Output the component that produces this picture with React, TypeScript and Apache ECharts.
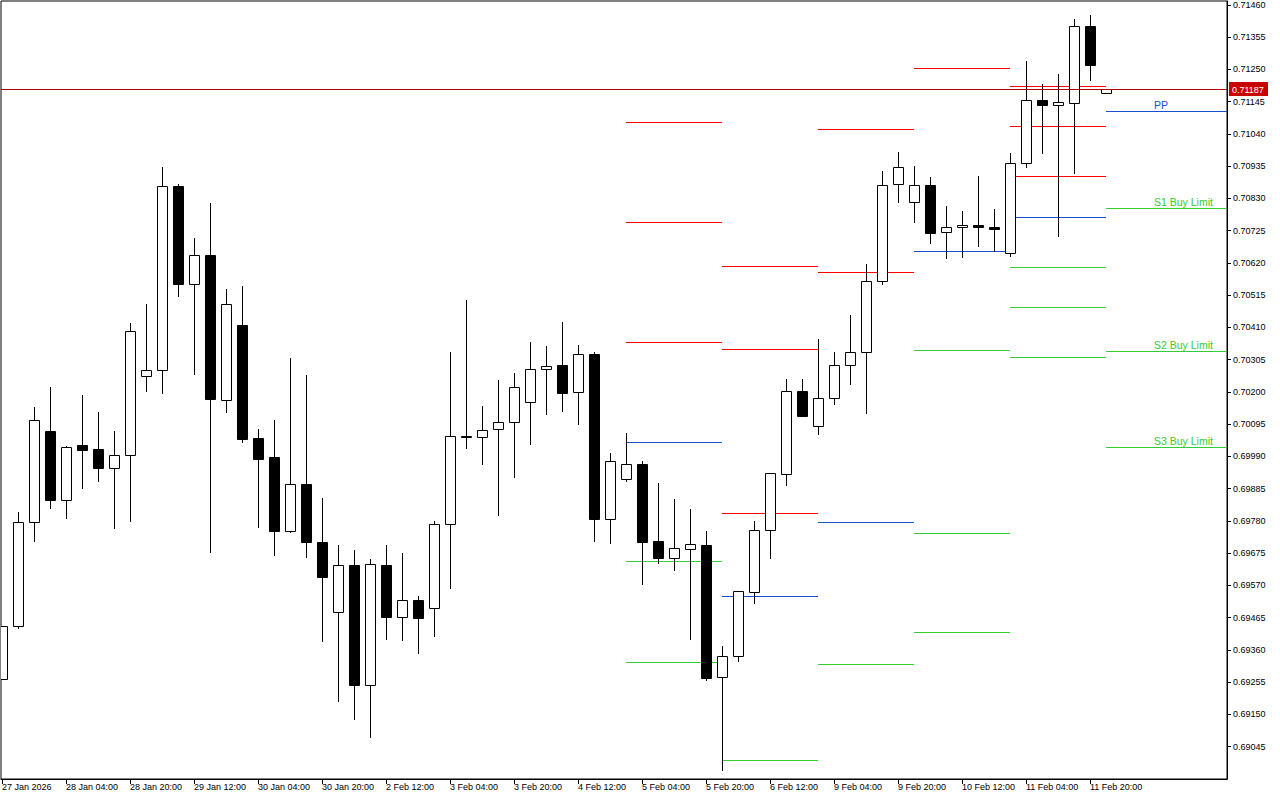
import React, { useEffect, useRef } from "react";
import * as echarts from "echarts";

// ---- candle data (H4 bars, index 0 = 27 Jan 12:00) ----
const opens = [0.69266,0.69438,0.69777,0.70073,0.69848,0.70028,0.70014,0.69953,0.69995,0.70252,0.70272,0.70871,0.70552,0.70646,0.70174,0.70418,0.70050,0.69988,0.69748,0.69901,0.69712,0.69484,0.69637,0.69246,0.69637,0.69468,0.69523,0.69497,0.69770,0.70057,0.70054,0.70080,0.70102,0.70168,0.70275,0.70288,0.70200,0.70324,0.69787,0.69917,0.69966,0.69715,0.69660,0.69689,0.69702,0.69272,0.69341,0.69549,0.69751,0.69933,0.70203,0.70089,0.70181,0.70288,0.70330,0.70561,0.70877,0.70819,0.70874,0.70721,0.70737,0.70744,0.70737,0.70653,0.70946,0.71151,0.71134,0.71141,0.71392,0.71174];
const highs = [0.69438,0.69809,0.70151,0.70216,0.70024,0.70190,0.70135,0.70073,0.70425,0.70487,0.70933,0.70877,0.70701,0.70815,0.70535,0.70545,0.70080,0.70109,0.70311,0.70255,0.69855,0.69702,0.69686,0.69656,0.69702,0.69676,0.69536,0.69780,0.70330,0.70500,0.70154,0.70239,0.70262,0.70363,0.70350,0.70428,0.70353,0.70330,0.70001,0.70067,0.69975,0.69904,0.69852,0.69819,0.69748,0.69373,0.69552,0.69780,0.69936,0.70242,0.70242,0.70373,0.70330,0.70451,0.70617,0.70920,0.70981,0.70936,0.70900,0.70806,0.70789,0.70903,0.70796,0.70978,0.71278,0.71203,0.71235,0.71414,0.71428,0.71187];
const lows = [0.69266,0.69432,0.69715,0.69822,0.69790,0.69888,0.69910,0.69757,0.69780,0.70203,0.70197,0.70513,0.70259,0.69679,0.70135,0.70037,0.69761,0.69669,0.69745,0.69663,0.69389,0.69194,0.69135,0.69077,0.69396,0.69393,0.69350,0.69406,0.69562,0.70018,0.69966,0.69800,0.69923,0.70031,0.70128,0.70138,0.70096,0.69715,0.69708,0.69910,0.69575,0.69643,0.69621,0.69396,0.69262,0.68969,0.69324,0.69513,0.69660,0.69897,0.70122,0.70063,0.70161,0.70226,0.70132,0.70552,0.70819,0.70754,0.70685,0.70636,0.70640,0.70675,0.70659,0.70643,0.70933,0.70978,0.70708,0.70913,0.71216,0.71174];
const closes = [0.69438,0.69777,0.70109,0.69848,0.70021,0.70011,0.69953,0.69995,0.70399,0.70272,0.70871,0.70552,0.70646,0.70177,0.70487,0.70047,0.69982,0.69748,0.69901,0.69712,0.69598,0.69637,0.69246,0.69640,0.69468,0.69523,0.69464,0.69770,0.70057,0.70052,0.70076,0.70102,0.70216,0.70275,0.70285,0.70197,0.70324,0.69787,0.69975,0.69966,0.69712,0.69660,0.69692,0.69705,0.69269,0.69341,0.69552,0.69751,0.69936,0.70203,0.70122,0.70181,0.70288,0.70330,0.70561,0.70874,0.70933,0.70874,0.70718,0.70737,0.70744,0.70737,0.70732,0.70946,0.71151,0.71134,0.71144,0.71392,0.71265,0.71187];

// ---- time axis labels (every 4th bar) ----
const xLabelIdx = [0,4,8,12,16,20,24,28,32,36,40,44,48,52,56,60,64,68];
const xLabels = ["27 Jan 2026","28 Jan 04:00","28 Jan 20:00","29 Jan 12:00","30 Jan 04:00","30 Jan 20:00","2 Feb 12:00","3 Feb 04:00","3 Feb 20:00","4 Feb 12:00","5 Feb 04:00","5 Feb 20:00","6 Feb 12:00","9 Feb 04:00","9 Feb 20:00","10 Feb 12:00","11 Feb 04:00","11 Feb 20:00"];

// ---- price axis labels ----
const yTicks = [0.71460,0.71355,0.71250,0.71145,0.71040,0.70935,0.70830,0.70725,0.70620,0.70515,0.70410,0.70305,0.70200,0.70095,0.69990,0.69885,0.69780,0.69675,0.69570,0.69465,0.69360,0.69255,0.69150,0.69045];

// ---- daily pivot levels (5, 6, 9, 10, 11, 12 Feb) ----
const X_MIN = -0.0625;
const X_MAX = 76.5625;
const Y_MIN = 0.6894;
const Y_MAX = 0.71473;
const dayStart = [39, 45, 51, 57, 63, 69];
const dayEnd = [45, 51, 57, 63, 69, X_MAX];
const pivotR3 = [0.71079, 0.70610, null, null, 0.71196, null];
const pivotR2 = [0.70754, 0.70340, 0.71056, null, 0.71066, null];
const pivotR1 = [0.70363, 0.69806, 0.70591, 0.71255, 0.70903, null];
const pivotPP = [0.70037, 0.69536, 0.69777, 0.70659, 0.70770, 0.71115];
const pivotS1 = [0.69650, 0.69002, 0.69314, 0.70337, 0.70607, 0.70799];
const pivotS2 = [0.69321, null, null, 0.69741, 0.70477, 0.70334];
const pivotS3 = [null, null, null, 0.69419, 0.70314, 0.70021];
const lastDayLabels = ["", "", "", "PP", "S1 Buy Limit", "S2 Buy Limit", "S3 Buy Limit"];
const LABEL_X = 72;

const FONT = '"Liberation Sans", Arial, sans-serif';
const RED = "#ff0000";
const BLUE = "#1450d0";
const GREEN = "#32cd32";

export default function App() {
  const ref = useRef<HTMLDivElement>(null);
  useEffect(() => {
    if (!ref.current) return;
    const chart = echarts.init(ref.current, undefined, { renderer: "svg" });

    const candleData = opens.map((o, i) => [i, o, closes[i], lows[i], highs[i]]);

    const levels = [pivotR3, pivotR2, pivotR1, pivotPP, pivotS1, pivotS2, pivotS3];
    const kinds = [0, 0, 0, 1, 2, 2, 2];
    const segData: number[][] = [];
    const segLabels: string[] = [];
    for (let d = 0; d < dayStart.length; d++) {
      levels.forEach((arr, li) => {
        const v = arr[d];
        if (v == null) return;
        segData.push([dayStart[d], dayEnd[d], v, kinds[li]]);
        segLabels.push(d === dayStart.length - 1 ? lastDayLabels[li] : "");
      });
    }
    const lastClose = closes[closes.length - 1];

    const option: any = {
      animation: false,
      backgroundColor: "#ffffff",
      textStyle: { fontFamily: FONT },
      grid: {
        left: 1, right: 53, top: 1, bottom: 21,
        show: true, borderColor: "#000", borderWidth: 1, backgroundColor: "#fff",
        containLabel: false, outerBoundsMode: "none",
      },
      xAxis: {
        type: "value", min: X_MIN, max: X_MAX,
        splitLine: { show: false },
        axisLine: { show: true, lineStyle: { color: "#000", width: 1 } },
        axisTick: { show: true, customValues: xLabelIdx, length: 5, inside: false, lineStyle: { color: "#000" } },
        axisLabel: {
          show: true, customValues: xLabelIdx, align: "left", margin: 3,
          color: "#000", fontSize: 9, fontFamily: FONT,
          formatter: (v: number) => {
            const k = xLabelIdx.indexOf(Math.round(v));
            return k >= 0 ? xLabels[k] : "";
          },
        },
      },
      yAxis: {
        type: "value", position: "right", min: Y_MIN, max: Y_MAX, scale: true,
        splitLine: { show: false },
        axisLine: { show: true, onZero: false, lineStyle: { color: "#000", width: 1 } },
        axisTick: { show: true, customValues: yTicks, length: 4, inside: false, lineStyle: { color: "#000" } },
        axisLabel: {
          show: true, customValues: yTicks, margin: 6, color: "#000", fontSize: 9, fontFamily: FONT,
          formatter: (v: number) => v.toFixed(5),
        },
      },
      series: [
        {
          type: "custom",
          name: "pivots",
          clip: true,
          silent: true,
          data: segData,
          encode: { x: [0, 1], y: 2 },
          renderItem: (params: any, api: any) => {
            const price = api.value(2);
            const kind = api.value(3);
            const p0 = api.coord([api.value(0), price]);
            const p1 = api.coord([api.value(1), price]);
            const y = Math.round(p0[1]) + 0.5;
            const color = kind === 0 ? RED : kind === 1 ? BLUE : GREEN;
            const children: any[] = [
              { type: "line", shape: { x1: Math.round(p0[0]), y1: y, x2: Math.round(p1[0]), y2: y }, style: { stroke: color, lineWidth: 1 } },
            ];
            const lbl = segLabels[params.dataIndex];
            if (lbl) {
              const lx = api.coord([LABEL_X, price])[0];
              children.push({
                type: "text", x: lx, y: y - 1,
                style: { text: lbl, fill: color, fontSize: 10.5, fontFamily: FONT, align: "left", verticalAlign: "bottom" },
              });
            }
            return { type: "group", children };
          },
          z: 2,
        },
        {
          type: "custom",
          name: "AUDUSD,H4",
          clip: true,
          silent: true,
          data: candleData,
          encode: { x: 0, y: [1, 2, 3, 4] },
          renderItem: (params: any, api: any) => {
            const x = api.value(0);
            const o = api.value(1), c = api.value(2), l = api.value(3), h = api.value(4);
            const pO = api.coord([x, o]);
            const pC = api.coord([x, c]);
            const pL = api.coord([x, l]);
            const pH = api.coord([x, h]);
            const cx = Math.round(pO[0]) + 0.5;
            const yTop = Math.round(Math.min(pO[1], pC[1]));
            const yBot = Math.round(Math.max(pO[1], pC[1]));
            const bull = c > o;
            const hgt = Math.max(yBot - yTop, 1);
            return {
              type: "group",
              children: [
                { type: "line", shape: { x1: cx, y1: Math.round(pH[1]), x2: cx, y2: Math.round(pL[1]) + 1 }, style: { stroke: "#000", lineWidth: 1 } },
                { type: "rect", shape: { x: cx - 5, y: yTop + 0.5, width: 10, height: hgt }, style: { fill: bull ? "#fff" : "#000", stroke: "#000", lineWidth: 1 } },
              ],
            };
          },
          z: 3,
        },
        {
          type: "custom",
          name: "bid",
          clip: false,
          silent: true,
          data: [[X_MIN, lastClose]],
          encode: { x: 0, y: 1 },
          renderItem: (params: any, api: any) => {
            const cs = params.coordSys;
            const p = api.coord([api.value(0), api.value(1)]);
            const y = Math.round(p[1]) + 0.5;
            const right = cs.x + cs.width;
            return {
              type: "group",
              children: [
                { type: "line", shape: { x1: cs.x, y1: y, x2: right, y2: y }, style: { stroke: "#b00000", lineWidth: 1 } },
                { type: "rect", shape: { x: right + 2, y: y - 7.5, width: 39, height: 14 }, style: { fill: "#c80000" } },
                {
                  type: "text", x: right + 5, y: y,
                  style: { text: api.value(1).toFixed(5), fill: "#fff", fontSize: 9, fontFamily: FONT, align: "left", verticalAlign: "middle" },
                },
              ],
            };
          },
          z: 4,
        },
      ],
    };
    chart.setOption(option);
    return () => chart.dispose();
  }, []);
  return <div ref={ref} style={{ position: "absolute", left: 0, top: 0, width: 1280, height: 800, background: "#fff" }} />;
}
